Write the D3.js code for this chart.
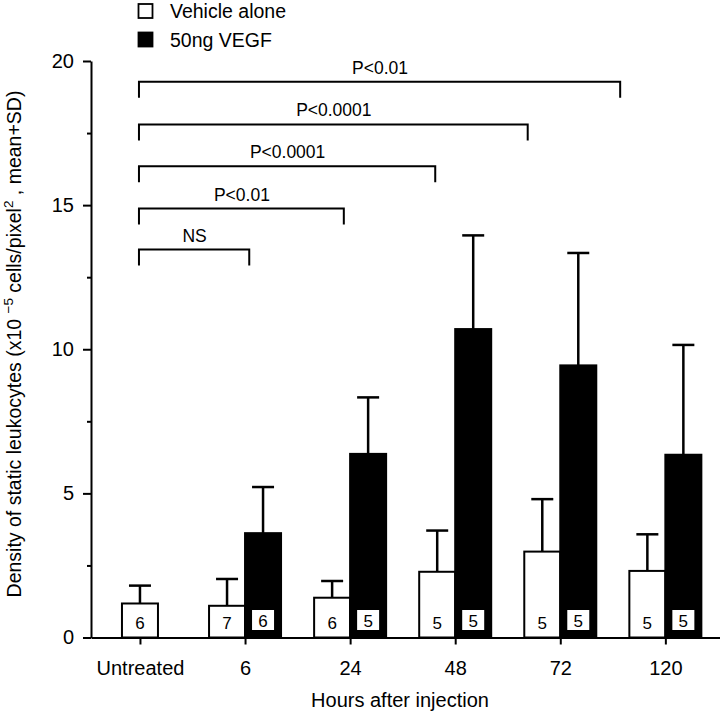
<!DOCTYPE html>
<html><head><meta charset="utf-8">
<script src="https://cdn.jsdelivr.net/npm/d3@7"></script>
<style>
body{margin:0;background:#fff;}
svg{display:block;}
text{font-family:"Liberation Sans",Arial,Helvetica,sans-serif;fill:#000;}
</style></head><body>
<svg id="chart" width="720" height="714"></svg>
<script>
const categories = ["Untreated","6","24","48","72","120"];
const vehicleMean = [1.18,1.10,1.38,2.28,2.98,2.31];
const vehicleSD   = [0.62,0.93,0.58,1.43,1.82,1.27];
const vehicleN    = [6,7,6,5,5,5];
const vegfMean = [null,3.62,6.37,10.70,9.44,6.34];
const vegfSD   = [null,1.60,1.96,3.25,3.90,3.81];
const vegfN    = [null,6,5,5,5,5];
const yTicks = [0,5,10,15,20];
const yMinorTicks = [2.5,7.5,12.5,17.5];
const bracketLabels = ["NS","P<0.01","P<0.0001","P<0.0001","P<0.01"];
const bracketLevels = [13.46,14.88,16.35,17.80,19.28];
const bracketStart = [0,0,0,0,0];
const bracketEnds = [1.04,1.94,2.81,3.69,4.57];
const legendLabels = ["Vehicle alone","50ng VEGF"];
const xTitle = "Hours after injection";

const svg = d3.select("#chart");
svg.append("rect").attr("width",720).attr("height",714).attr("fill","#fff");

const x = d3.scaleLinear().domain([-0.466, 5.52]).range([91, 720]);
const y = d3.scaleLinear().domain([0, 20]).range([637.5, 61]);
const barW = 36;

// Y axis
const yAxis = svg.append("g").attr("transform","translate(91,0)")
  .call(d3.axisLeft(y).tickValues(yTicks).tickSize(8).tickSizeOuter(0).tickPadding(9));
yAxis.selectAll("path,line").attr("stroke","#000").attr("stroke-width",2);
yAxis.selectAll("text").attr("font-size",20).style("font-family",'"Liberation Sans",Arial,sans-serif');
const yMinor = svg.append("g").attr("transform","translate(91,0)")
  .call(d3.axisLeft(y).tickValues(yMinorTicks).tickSize(4).tickFormat(""));
yMinor.select(".domain").remove();
yMinor.selectAll("line").attr("stroke","#000").attr("stroke-width",2);

// X axis
const idx = categories.map((d,i)=>i);
const xAxis = svg.append("g").attr("transform",`translate(0,${y(0)})`)
  .call(d3.axisBottom(x).tickValues(idx).tickFormat(i=>categories[i]).tickSize(7).tickSizeOuter(0).tickPadding(16));
xAxis.selectAll("path,line").attr("stroke","#000").attr("stroke-width",2);
xAxis.selectAll("text").attr("font-size",20).style("font-family",'"Liberation Sans",Arial,sans-serif');

// data rows
const vehRows = idx.map(i=>({i, mean:vehicleMean[i], sd:vehicleSD[i], n:vehicleN[i],
  x0: i===0 ? x(i)-barW/2 : x(i)-barW}));
const vegfRows = idx.filter(i=>vegfMean[i]!=null).map(i=>({i, mean:vegfMean[i], sd:vegfSD[i], n:vegfN[i], x0:x(i)}));

function drawErr(rows){
  const g = svg.append("g").attr("stroke","#000").attr("stroke-width",2.5);
  g.selectAll(".stem").data(rows).join("line")
    .attr("x1",d=>d.x0+barW/2).attr("x2",d=>d.x0+barW/2)
    .attr("y1",d=>y(d.mean)).attr("y2",d=>y(d.mean+d.sd));
  g.selectAll(".cap").data(rows).join("line")
    .attr("x1",d=>d.x0+barW/2-11).attr("x2",d=>d.x0+barW/2+11)
    .attr("y1",d=>y(d.mean+d.sd)).attr("y2",d=>y(d.mean+d.sd));
}
drawErr(vehRows);
drawErr(vegfRows);

svg.append("g").selectAll("rect").data(vehRows).join("rect")
  .attr("x",d=>d.x0).attr("width",barW)
  .attr("y",d=>y(d.mean)).attr("height",d=>y(0)-y(d.mean))
  .attr("fill","#fff").attr("stroke","#000").attr("stroke-width",2);
svg.append("g").selectAll("rect").data(vegfRows).join("rect")
  .attr("x",d=>d.x0).attr("width",barW)
  .attr("y",d=>y(d.mean)).attr("height",d=>y(0)-y(d.mean))
  .attr("fill","#000").attr("stroke","#000").attr("stroke-width",2);

// n labels
svg.append("g").selectAll("text").data(vehRows).join("text")
  .attr("x",d=>d.x0+barW/2).attr("y",y(0)-9)
  .attr("text-anchor","middle").attr("font-size",17).text(d=>d.n);
svg.append("g").selectAll("rect").data(vegfRows).join("rect")
  .attr("x",d=>d.x0+barW/2-11).attr("y",y(0)-27.5).attr("width",22).attr("height",20)
  .attr("fill","#fff");
svg.append("g").selectAll("text").data(vegfRows).join("text")
  .attr("x",d=>d.x0+barW/2).attr("y",y(0)-11)
  .attr("text-anchor","middle").attr("font-size",17).text(d=>d.n);

// significance brackets
const br = bracketLabels.map((l,k)=>({l, lev:bracketLevels[k], s:bracketStart[k], e:bracketEnds[k]}));
const bg = svg.append("g");
bg.selectAll("path").data(br).join("path")
  .attr("d",d=>`M${x(d.s)-1},${y(d.lev)+16}V${y(d.lev)}H${x(d.e)}V${y(d.lev)+16}`)
  .attr("fill","none").attr("stroke","#000").attr("stroke-width",2);
bg.selectAll("text").data(br).join("text")
  .attr("x",d=>(x(d.s)+x(d.e))/2).attr("y",d=>y(d.lev)-8)
  .attr("text-anchor","middle").attr("font-size",17.5).text(d=>d.l);

// legend
const lg = svg.append("g");
legendLabels.forEach((l,k)=>{
  lg.append("rect").attr("x",138.5).attr("y",4+k*28.5).attr("width",14).attr("height",14)
    .attr("fill",k===0?"#fff":"#000").attr("stroke","#000").attr("stroke-width",1.8);
  lg.append("text").attr("x",170).attr("y",18+k*29).attr("font-size",19.5).text(l);
});

// axis titles
svg.append("text").attr("x",400).attr("y",707).attr("text-anchor","middle")
  .attr("font-size",20).text(xTitle);
const yt = svg.append("text").attr("transform","translate(21,344) rotate(-90)")
  .attr("text-anchor","middle").attr("font-size",19.5);
yt.append("tspan").text("Density of static leukocytes (x10 ");
yt.append("tspan").attr("font-size",13.5).attr("dy",-8).text("\u22125");
yt.append("tspan").attr("dy",8).text(" cells/pixel");
yt.append("tspan").attr("font-size",13.5).attr("dy",-8).text("2");
yt.append("tspan").attr("dy",8).text(" , mean+SD)");
</script>
</body></html>
